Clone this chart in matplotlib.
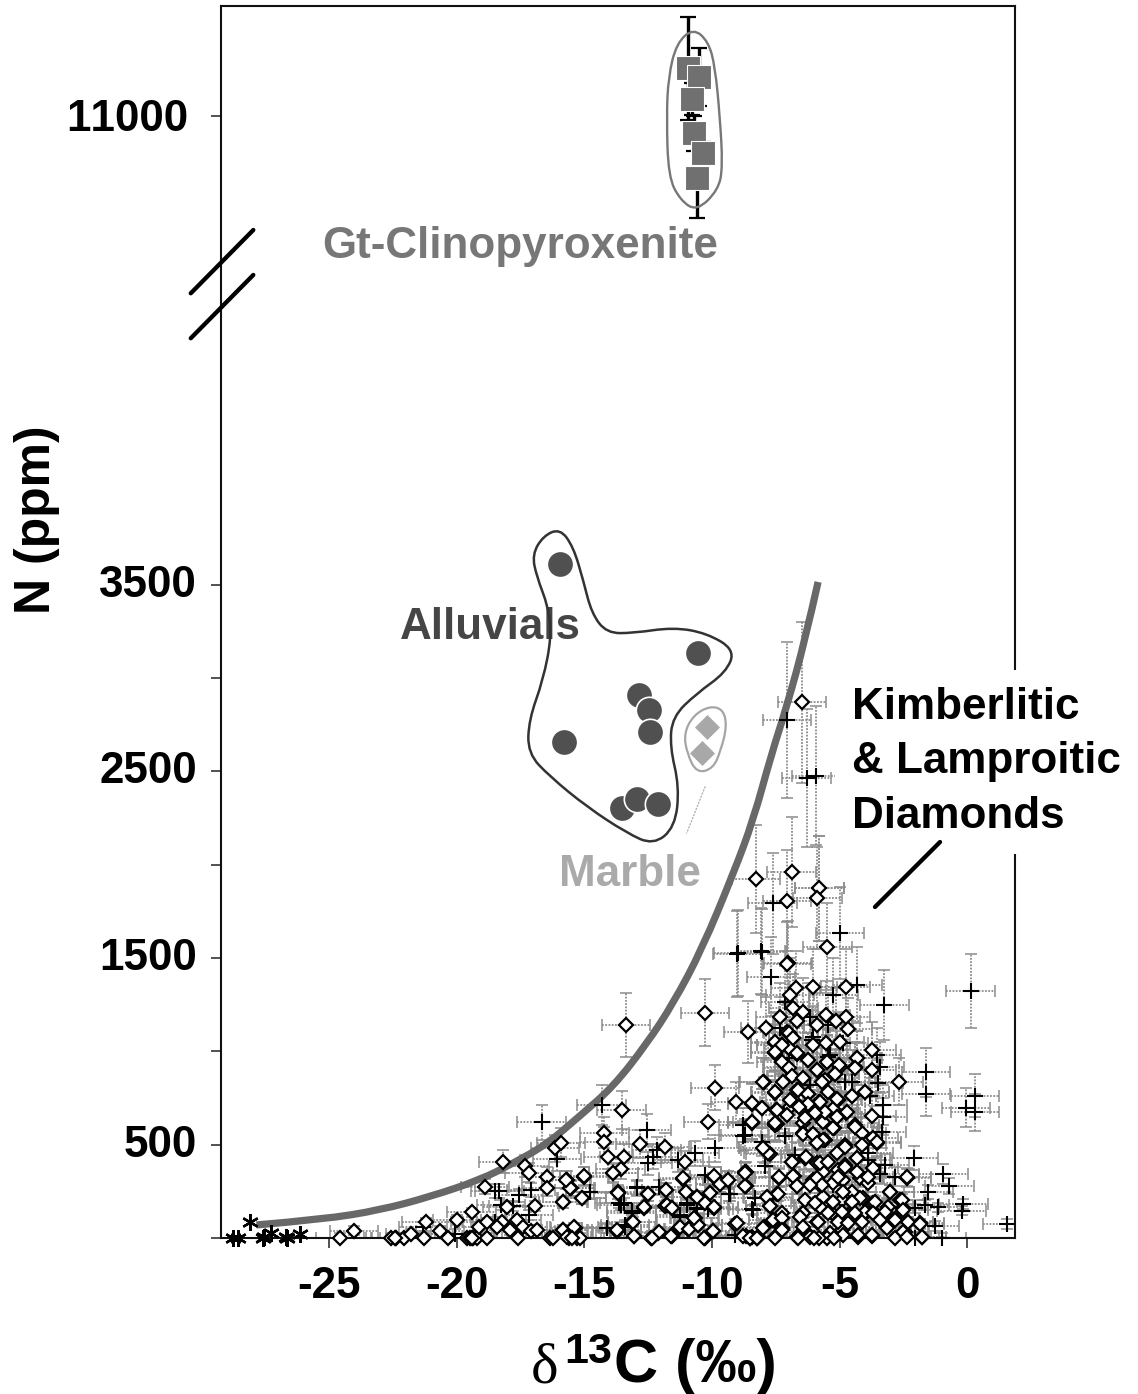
import numpy as np
import matplotlib
matplotlib.use("Agg")
import matplotlib.pyplot as plt
from matplotlib.path import Path
from matplotlib.patches import PathPatch
from matplotlib.transforms import ScaledTranslation

plt.rcParams['font.family'] = ['Liberation Sans', 'DejaVu Sans']
plt.rcParams['font.weight'] = 'bold'
plt.rcParams['text.kerning_factor'] = 6

# ---------- data ----------
diamond_x = [-13.37,-10.27,-8.57,-7.9,-7.03,-6.72,-6.94,-6.03,-4.76,-6.81,-7.33,-6.65,-6.42,-5.87,-5.54,-5.14,-4.76,-4.68,-7.05,-6.81,-7.53,-7.27,-7.0,-6.03,-5.54,-4.98,-3.74,-7.53,-6.65,-6.22,-4.3,-4.39,-3.74,-5.48,-5.0,-7.05,-5.87,-6.88,-6.42,-5.57,-5.18,-7.96,-2.67,-9.88,-4.0,-7.53,-4.52,-6.22,-6.68,-9.07,-8.44,-8.05,-6.94,-6.58,-6.25,-5.79,-5.05,-5.27,-13.54,-7.5,-4.73,-3.74,-10.14,-8.44,-7.46,-6.42,-5.63,-5.11,-4.39,-5.22,-14.22,-14.22,-6.42,-6.03,-5.57,-4.13,-3.67,-3.54,-5.9,-4.78,-12.82,-11.84,-7.92,-7.73,-14.06,-13.45,-6.35,-6.88,-4.33,-11.06,-5.87,-4.78,-13.58,-13.87,-8.68,-5.63,-5.05,-4.33,-3.67,-15.0,-9.92,-11.12,-9.39,-9.69,-7.37,-6.78,-6.03,-2.37,-4.85,-4.2,-6.65,-8.68,-5.76,-5.24,-3.87,-11.8,-13.67,-12.5,-15.1,-3.02,-10.58,-10.08,-7.46,-4.52,-4.9,-5.63,-4.07,-7.79,-2.63,-12.67,-11.84,-11.58,-10.27,-9.92,-7.73,-5.76,-4.52,-3.67,-3.08,-2.5,-6.42,-10.67,-10.54,-13.13,-9.1,-7.27,-7.6,-5.9,-5.31,-4.65,-4.13,-3.54,-2.3,-2.82,-1.84,-13.74,-13.05,-12.39,-12.1,-11.58,-11.29,-10.93,-10.27,-9.95,-8.68,-8.44,-8.18,-7.96,-7.53,-7.27,-6.68,-6.16,-4.92,-4.26,-3.74,-3.15,-2.43,-1.78,
             -24.59,-24.04,-22.6,-22.37,-22.08,-21.82,-21.2,-21.3,-20.67,-20.34,-19.99,-19.6,-19.36,-19.2,-19.42,-19.12,-18.9,-18.81,-18.81,-18.25,-18.42,-18.2,-18.03,-17.92,-17.64,-17.6,-17.4,-17.33,-17.17,-17.1,-16.94,-16.87,-16.48,-16.48,-16.35,-16.22,-16.16,-15.93,-15.85,-15.85,-15.7,-15.54,-15.6,-15.37,-15.3,
             -6.48,-8.27,-6.88,-7.05,-5.79,-5.87,-5.48,-7.05,
             -5.63,-5.24,-4.78,-4.13,-5.11,-4.33,-5.76,-4.78,-5.44,-4.33,-5.05,-5.9,-3.87,-5.7,-4.85,-6.16,-4.2,-3.6,-4.52,-5.24,-6.35,-5.96,-3.02,-2.56,-2.5,-3.22,-4.0,-3.67,-4.39,-4.91,-5.44,-6.42,-5.83,-6.55,-5.05,-4.65,-4.13,-3.41,-2.82,-2.3,-1.84,-7.6,-7.27,-7.99,-7.27,-6.42,-3.15,-3.74,-2.5,-1.78,-4.26,-4.85,-5.37,-6.16,-6.62,-7.53,-8.25,-8.51,-5.5,-5.8,-6.0,-5.2,-2.82,-2.36,-7.79,-7.99,-6.87,-6.33,-8.71,-8.71,-7.36,-6.81,-6.65,-7.42,-7.83,-7.73,-3.54,-2.36,-7.53,-8.44,-6.42,-6.03,-5.9,-4.39,
             -7.0,-6.81,-7.53,-7.27,-7.53,-6.68,-7.27,-6.22,-7.0,-5.9,-6.87,-6.42,-5.7,-7.2,-7.99,-5.48,-5.01,-5.18,-4.33,-4.39,-6.62,-6.25,-5.44,-5.09,-4.52,-4.0,-7.53,-5.76,-6.22,-6.58,-6.94,-8.44,-8.05,-7.46,-5.57,-4.72,-5.11,-5.96,-6.35,-7.07,-8.44,-7.53,
             -15.83,-15.7,-15.41,-15.18,-15.5,-13.74,-13.06,-13.11,-12.07,-12.37,-11.6,-11.25,-10.89,-10.54,-10.7,-9.97,-10.31,-9.03,-8.77,-8.51,-8.25,-11.78,-11.58,-12.67,-12.5,-11.8,-13.67,-15.11,-15.83,-15.56,-15.73,-15.02,-13.87,-10.58,-10.08,-9.92,-9.69,-9.36,-9.92,-11.12,-11.02,-8.71,-8.71,-22.43,-19.5,-19.4]
diamond_n = [1141,1207,1105,1123,1475,1337,1302,1346,1346,1230,1186,1164,1212,1141,1195,1164,1186,1120,1105,1070,1046,1034,1016,1034,1046,1052,1007,993,986,954,963,914,900,945,918,914,900,868,855,846,877,837,837,805,784,779,762,771,793,727,718,695,704,709,712,730,739,689,686,686,671,655,623,623,611,618,623,650,605,587,564,516,561,557,525,561,534,511,507,498,504,489,471,450,436,436,430,409,427,405,400,391,370,350,355,355,364,355,373,329,329,316,311,288,320,332,311,323,311,320,279,279,284,293,293,257,245,234,212,248,221,239,236,248,204,221,212,212,204,162,171,162,186,162,171,168,195,186,168,159,132,105,70,84,75,132,96,88,132,123,114,123,88,100,79,39,11,0,25,11,52,46,0,38,11,7,4,57,4,52,7,11,43,7,11,57,34,4,
             0,39,0,0,0,21,84,0,39,0,96,0,0,0,137,61,275,84,0,87,61,409,168,43,96,0,61,386,350,39,171,43,329,266,0,0,480,511,191,43,311,266,0,55,0,
             2870,1925,1960,1806,1873,1819,1560,1470,
             525,587,489,498,453,427,400,382,409,355,328,320,328,284,248,284,213,195,195,195,204,186,248,204,150,141,141,132,132,141,132,132,87,114,87,79,87,96,96,87,75,96,107,54,43,61,54,16,34,7,16,16,25,7,0,0,0,0,0,0,0,0,0,7,453,480,409,432,355,279,325,332,280,236,218,171,516,325,605,614,557,557,507,596,
             1096,1070,1051,1034,998,989,945,953,909,900,868,855,837,837,837,945,927,878,962,909,793,771,784,743,761,784,784,730,718,703,739,721,695,686,676,676,650,668,641,659,623,617,
             43,7,57,0,0,43,12,87,34,0,12,61,47,70,105,37,0,79,11,0,0,177,159,164,236,257,243,212,191,266,311,332,346,221,239,164,289,311,332,320,248,279,350,0,0,0]

plus_x = [-20.08,-18.34,-18.5,-18.27,-17.8,-17.57,-17.1,-17.17,-16.68,-16.07,-21.32,-18.5,
          -9.0,-8.05,-7.69,-7.14,-5.24,-4.3,-3.24,0.14,-6.16,-7.33,-5.44,-4.85,-6.03,-3.54,-3.42,-5.44,-1.61,-1.61,-4.78,-4.52,-3.48,-3.8,0.31,-0.04,0.31,-3.31,-3.31,-14.33,-12.56,-8.77,-8.77,-3.35,-7.14,-8.05,-9.88,-12.17,-12.3,-12.5,-11.32,-10.67,-2.07,-3.9,-6.75,-7.92,-0.93,-3.22,-2.82,-3.4,-0.69,-10.27,-14.78,-12.95,-12.08,-9.33,-8.31,-5.24,-13.55,-10.99,-8.38,-10.6,-1.52,-0.14,-0.21,-1.12,-1.65,-2.04,-13.15,-11.25,-13.41,-14.13,-1.25,1.56,-9.1,-0.99,-2.04,-3.87,
          -7.05,-6.29,-5.93,-7.62,-5.79,-4.98,-8.99,-8.08,-6.16,-5.37,-6.09,-7.0,-8.71,
          -14.78,-13.63,-13.45,-12.95,-13.15,-13.41,-10.99,-10.6,-11.25,-10.14,-8.44,-9.3,-14.13]
plus_n = [21,253,253,177,171,230,257,123,620,421,61,87,
          1521,1534,1400,1266,1302,1355,1248,1325,1186,1123,1141,1043,1079,980,914,971,887,771,837,837,829,762,762,698,673,712,650,712,579,605,546,570,546,516,480,471,436,400,418,454,427,418,445,386,343,391,329,343,279,337,245,266,271,234,212,284,177,177,150,159,248,182,146,164,177,159,132,114,61,52,64,75,16,0,0,454,
          2775,2466,2476,1792,1873,1635,1528,1537,820,980,1061,962,552,
          248,186,186,271,146,70,186,154,123,154,154,236,54]

star_x = [-28.76,-28.6,-28.1,-27.6,-27.55,-27.3,-26.7,-26.65,-26.15]
star_n = [0,0,84,0,4,29,7,0,20]

alluvial_x = [-15.96,-10.56,-12.85,-12.46,-12.43,-15.8,-13.54,-12.95,-12.1]
alluvial_n = [3610,3135,2908,2828,2712,2655,2302,2350,2325]

marble_x = [-10.21,-10.4]
marble_n = [2739,2596]

clino_x = [-10.93,-10.5,-10.77,-10.69,-10.34,-10.6]
clino_n = [11255,11207,11089,10907,10803,10666]
clino_err = [275,155,85,95,60,210]

curve_x = [-27.86,-25.24,-23.0,-21.06,-19.1,-17.8,-16.5,-15.17,-13.87,-12.56,-11.52,-10.4,-9.16,-8.38,-7.66,-7.07,-6.35,-5.84]
curve_n = [70,100,150,221,311,400,500,655,811,1040,1257,1545,1953,2239,2596,2846,3203,3514]

alluvial_hull_x = [-15.96,-15.44,-15.05,-14.72,-14.13,-13.09,-11.52,-10.21,-9.1,-9.45,-10.6,-11.55,-11.65,-11.28,-11.45,-12.3,-13.35,-14.91,-16.35,-17.22,-17.18,-16.62,-16.29,-16.42,-16.87,-17.05,-16.62]
alluvial_hull_n = [3800,3703,3524,3346,3240,3240,3271,3240,3150,3030,2917,2792,2632,2417,2200,2105,2170,2310,2471,2596,2775,2989,3221,3381,3542,3660,3760]
marble_hull_x = [-11.1,-10.73,-10.08,-9.55,-9.42,-9.65,-9.95,-10.6,-10.98]
marble_hull_n = [2703,2800,2850,2830,2739,2614,2515,2490,2596]
clino_hull_x = [-10.73,-10.14,-9.88,-9.69,-9.58,-9.75,-10.6,-11.25,-11.71,-11.78,-11.71,-11.39]
clino_hull_n = [11470,11398,11264,10996,10729,10604,10490,10550,10675,10996,11210,11390]

x_ticks = [-25,-20,-15,-10,-5,0]
y_ticks = [0,500,1000,1500,2000,2500,3000,3500,11000]
y_tick_labels = ['', '500', '', '1500', '', '2500', '', '3500', '11000']

d13c_err = 0.95
n_rel_err = 0.15
n_min_err = 25

# ---------- broken y scale ----------
brk_in = [-2000, 5000, 10000, 14000]
brk_out = [-2000, 5000, 5010, 9010]
def fwd(v):
    return np.interp(v, brk_in, brk_out)
def inv(v):
    return np.interp(v, brk_out, brk_in)

def bspline(xs, ys, closed=True):
    pts = np.column_stack([xs, ys]).astype(float)
    if closed:
        mids = (pts + np.roll(pts, -1, axis=0)) / 2
        verts = [mids[-1]]
        codes = [Path.MOVETO]
        for p, m in zip(pts, mids):
            verts += [p, m]
            codes += [Path.CURVE3, Path.CURVE3]
    else:
        verts = [pts[0]]
        codes = [Path.MOVETO]
        for i in range(1, len(pts) - 1):
            end = pts[i + 1] if i == len(pts) - 2 else (pts[i] + pts[i + 1]) / 2
            verts += [pts[i], end]
            codes += [Path.CURVE3, Path.CURVE3]
    return Path(np.array(verts), codes)

W, H = 1138, 1394
fig = plt.figure(figsize=(W / 100, H / 100), dpi=100, facecolor='white')
ax = fig.add_axes([221 / W, (H - 1238) / H, (1015 - 221) / W, (1238 - 6) / H])
ax.set_yscale('function', functions=(fwd, inv))
ax.set_xlim(-29.25, 1.88)
ax.set_ylim(0, 11589)

# ---------- error bars ----------
def bars(xs, ns, z):
    xs = np.array(xs); ns = np.array(ns, float)
    yerr = np.maximum(n_rel_err * ns, n_min_err)
    eb = ax.errorbar(xs, ns, xerr=d13c_err, yerr=yerr, fmt='none', ecolor='#8c8c8c',
                     elinewidth=1.3, capsize=4.5, capthick=1.1, zorder=z)
    for c in eb[2]:
        c.set_linestyle((0, (1, 0.8)))

bars(plus_x, plus_n, 2)
bars(diamond_x, diamond_n, 2)

# ---------- curve ----------
ax.add_patch(PathPatch(bspline(curve_x, curve_n, closed=False), fc='none', ec='#686868', lw=5.2,
                       zorder=2.5, capstyle='butt'))

# ---------- points ----------
ax.plot(plus_x, plus_n, '+', color='black', ms=11.5, mew=1.5, zorder=3, clip_on=False)
ax.plot(diamond_x, diamond_n, 'D', mfc='white', mec='black', ms=7, mew=1.6, zorder=4, clip_on=False)
ax.plot(star_x, star_n, ls='none', marker=(6, 2, 0), color='black', ms=12, mew=1.7, zorder=4, clip_on=False)

ax.plot(alluvial_x, alluvial_n, 'o', mfc='#505050', mec='white', ms=19, mew=1.2, zorder=6)
ax.plot(marble_x, marble_n, 'D', mfc='#a8a8a8', mec='#a8a8a8', ms=12.3, mew=0.5, zorder=6)
ax.errorbar(clino_x, clino_n, yerr=clino_err, fmt='none', ecolor='black', elinewidth=2.4, capsize=5.5,
            capthick=1.6, zorder=5)
ax.plot(clino_x, clino_n, 's', mfc='#707070', mec='white', ms=17, mew=0.8, zorder=6)

ax.add_patch(PathPatch(bspline(alluvial_hull_x, alluvial_hull_n), fc='none', ec='#333333', lw=1.8, zorder=7))
ax.add_patch(PathPatch(bspline(marble_hull_x, marble_hull_n), fc='none', ec='#a5a5a5', lw=1.6, zorder=7))
ax.add_patch(PathPatch(bspline(clino_hull_x, clino_hull_n), fc='none', ec='#777777', lw=1.7, zorder=7))

# ---------- axes ----------
for s in ax.spines.values():
    s.set_linewidth(1.5)
    s.set_color('#111111')
ax.set_xticks(x_ticks)
ax.set_xticklabels([str(v) for v in x_ticks])
ax.set_yticks(y_ticks)
ax.set_yticklabels(y_tick_labels)
ax.minorticks_off()
ax.tick_params(axis='both', direction='out', length=7.5, width=1.1, labelsize=31.7, color='#222222')
ax.tick_params(axis='x', pad=13)
ax.tick_params(axis='y', pad=10)
for lab in ax.get_xticklabels() + ax.get_yticklabels():
    lab.set_fontweight('bold')
for lab, txt in zip(ax.get_yticklabels(), y_tick_labels):
    dx, dy = (-8, 1) if txt == '11000' else (0, 4)
    lab.set_transform(lab.get_transform() + ScaledTranslation(dx / 100, dy / 100, fig.dpi_scale_trans))

# axis-break slashes
for y0, y1 in [(0.7668, 0.8182), (0.7303, 0.7817)]:
    ax.plot([-0.0381, 0.0407], [y0, y1], transform=ax.transAxes, color='black', lw=3.1,
            clip_on=False, zorder=8, solid_capstyle='round')

# ---------- labels ----------
ax.text(0.3766, 0.8044, 'Gt-Clinopyroxenite', transform=ax.transAxes, ha='center', va='center',
        fontsize=31.7, fontweight='bold', color='#777777', zorder=5)
ax.text(0.3388, 0.4952, 'Alluvials', transform=ax.transAxes, ha='center', va='center',
        fontsize=31.7, fontweight='bold', color='#454545', zorder=5)
ax.text(0.5151, 0.2947, 'Marble', transform=ax.transAxes, ha='center', va='center',
        fontsize=31.7, fontweight='bold', color='#aaaaaa', zorder=5)
ax.text(0.7947, 0.3865, 'Kimberlitic\n& Lamproitic\nDiamonds', transform=ax.transAxes, ha='left', va='center',
        fontsize=31.7, fontweight='bold', color='black', linespacing=1.42, zorder=9, clip_on=False,
        bbox=dict(fc='white', ec='none', pad=12))
ax.annotate('', xy=(-3.61, 1773), xytext=(-1.06, 2121), zorder=10,
            arrowprops=dict(arrowstyle='-', color='black', lw=3.1, shrinkA=0, shrinkB=0))
ax.annotate('', xy=(-10.99, 2169), xytext=(-10.27, 2417), zorder=3,
            arrowprops=dict(arrowstyle='-', color='#aaaaaa', lw=0.9, ls=':', shrinkA=0, shrinkB=0))

ax.text(-0.2317, 0.5828, 'N (ppm)', transform=ax.transAxes, rotation=90, ha='center', va='center',
        fontsize=36, fontweight='bold')

xl_base = -0.1169
ax.text(0.3905, xl_base, '\u03b4', transform=ax.transAxes, ha='left', va='baseline', fontsize=42,
        family='Liberation Serif', fontweight='normal')
ax.text(0.4325, -0.1015, '13', transform=ax.transAxes, ha='left', va='baseline', fontsize=31,
        fontweight='bold')
ax.text(0.4955, xl_base, 'C (\u2030)', transform=ax.transAxes, ha='left', va='baseline', fontsize=44,
        fontweight='bold')

fig.savefig('out.png', dpi=100, facecolor='white')
